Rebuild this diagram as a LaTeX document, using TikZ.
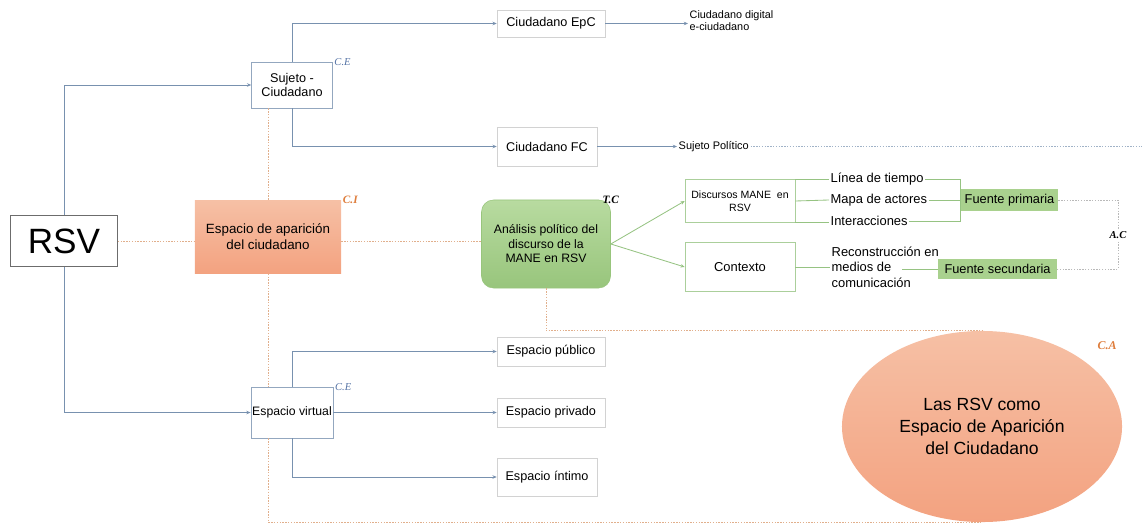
\documentclass[tikz,border=0pt]{standalone}
\usepackage{fontspec}
\setmainfont{Liberation Sans}
\newfontfamily\mathlabel{Liberation Serif}
\usetikzlibrary{shapes.geometric, arrows.meta, positioning, calc}
\definecolor{linkblue}{RGB}{120,145,175}
\definecolor{linkgreen}{RGB}{150,195,130}
\definecolor{dotorange}{RGB}{225,175,140}
\definecolor{orangetop}{RGB}{246,192,165}
\definecolor{orangebot}{RGB}{243,162,128}
\definecolor{greentop}{RGB}{184,219,160}
\definecolor{greenbot}{RGB}{152,197,124}
\definecolor{fillgreen}{RGB}{169,209,142}
\definecolor{labelorange}{RGB}{222,125,60}
\definecolor{labelblue}{RGB}{85,115,165}

\begin{document}
\begin{tikzpicture}[x=0.025cm, y=-0.025cm,
  cbox/.style={rectangle, draw=gray!35, fill=white, align=center, inner sep=1pt,
               font=\fontsize{9}{10.6}\selectfont},
  obox/.style={rectangle, top color=orangetop, bottom color=orangebot, align=center,
               inner sep=1pt, font=\fontsize{9.5}{11.3}\selectfont},
  gbox/.style={rectangle, rounded corners=0.3cm, draw=greenbot, top color=greentop,
               bottom color=greenbot, align=center, inner sep=1pt, font=\fontsize{8.7}{10.3}\selectfont},
  fbox/.style={rectangle, fill=fillgreen, inner sep=1pt, font=\fontsize{9.1}{11}\selectfont},
  txt/.style={inner sep=1pt, align=left, font=\fontsize{9.2}{11}\selectfont},
  clabel/.style={inner sep=1pt, font=\mathlabel\itshape\fontsize{7.5}{8}\selectfont},
  arrow/.style={-{Stealth[length=3pt, width=2.5pt]}, line width=0.6pt, color=linkblue},
  garrow/.style={-{Stealth[length=3pt, width=2.5pt]}, line width=0.6pt, color=linkgreen},
  gline/.style={line width=0.6pt, color=linkgreen},
  odot/.style={line width=0.6pt, color=dotorange, dash pattern=on 1pt off 1pt},
  bdot/.style={line width=0.6pt, color=linkblue!70, dash pattern=on 1pt off 1pt},
  gdot/.style={line width=0.6pt, color=gray!55, dash pattern=on 1pt off 1pt}
]
\useasboundingbox (0,0) rectangle (1142,524);

% left column
\node[cbox, draw=gray!85!black, minimum width=2.675cm, minimum height=1.275cm,
      font=\fontsize{25}{28}\selectfont] (rsv) at (64,241) {RSV};
\node[cbox, draw=linkblue!80, minimum width=2.025cm, minimum height=1.15cm] (suj) at (292,85) {Sujeto -\\Ciudadano};
\node[obox, minimum width=3.65cm, minimum height=1.825cm] (eap) at (268,237) {Espacio de aparición\\del ciudadano};
\node[cbox, draw=linkblue!80, minimum width=2.025cm, minimum height=1.275cm,
      font=\fontsize{8.7}{10.6}\selectfont] (evir) at (292,412.5) {Espacio virtual};

% citizen branch
\node[cbox, minimum width=2.7cm, minimum height=0.675cm] (epc) at (551,23.5) {Ciudadano EpC};
\node[cbox, minimum width=2.5cm, minimum height=0.975cm] (fc) at (547,146.5) {Ciudadano FC};
\node[txt, anchor=west, font=\fontsize{7.7}{8.5}\selectfont] (dig) at (688,21) {Ciudadano digital\\e-ciudadano};
\node[txt, anchor=west, font=\fontsize{7.8}{9}\selectfont] (pol) at (677,146.5) {Sujeto Político};
\coordinate (polend) at (1142,146.5);

% virtual space branch
\node[cbox, minimum width=2.7cm, minimum height=0.725cm] (epub) at (551,351.5) {Espacio público};
\node[cbox, minimum width=2.7cm, minimum height=0.725cm] (epriv) at (551,412.5) {Espacio privado};
\node[cbox, minimum width=2.5cm, minimum height=0.95cm] (eint) at (547,477) {Espacio íntimo};

% analysis branch
\node[gbox, minimum width=3.225cm, minimum height=2.2cm] (ana) at (546,244) {Análisis político del\\discurso de la\\MANE en RSV};
\node[cbox, draw=linkgreen!80, minimum width=2.75cm, minimum height=1.075cm,
      font=\fontsize{7.5}{9.2}\selectfont] (disc) at (740,201) {Discursos MANE~ en\\RSV};
\node[cbox, draw=linkgreen!80, minimum width=2.75cm, minimum height=1.225cm,
      font=\fontsize{9.2}{11}\selectfont] (ctx) at (740,267) {Contexto};
\node[txt, anchor=west] (linea) at (829,179.5) {Línea de tiempo};
\node[txt, anchor=west] (mapa) at (829,200) {Mapa de actores};
\node[txt, anchor=west] (inter) at (829,221) {Interacciones};
\node[txt, anchor=west] (recon) at (830,267) {Reconstrucción en\\medios de\\comunicación};
\coordinate (medend) at (902,269);
\node[fbox, minimum width=2.425cm, minimum height=0.55cm] (prim) at (1009.5,200) {Fuente primaria};
\node[fbox, minimum width=2.975cm, minimum height=0.5cm] (sec) at (997.5,269) {Fuente secundaria};
\coordinate (acx) at (1118,235);

\node[ellipse, top color=orangetop, bottom color=orangebot, minimum width=7cm, minimum height=4.775cm,
      align=center, font=\fontsize{12.5}{15.6}\selectfont] (ell) at (982,426.5)
      {Las RSV como\\Espacio de Aparición\\del Ciudadano};

% blue connectors
\draw[arrow] (rsv.north) |- (suj.west);
\draw[arrow] (rsv.south) |- (evir.west);
\draw[arrow] (suj.north) |- (epc.west);
\draw[arrow] (suj.south) |- (fc.west);
\draw[arrow] (epc.east) -- (epc.east -| dig.west);
\draw[arrow] (fc.east) -- (pol.west);
\draw[bdot] (pol.east) -- (polend);
\draw[arrow] (evir.north) |- (epub.west);
\draw[arrow] (evir.east) -- (epriv.west);
\draw[arrow] (evir.south) |- (eint.west);

% green connectors
\draw[garrow] (ana.east) -- (disc.west);
\draw[garrow] (ana.east) -- (ctx.west);
\draw[gline] (disc.north east) -- (disc.north east -| linea.west);
\draw[gline] (disc.east) -- (mapa.west);
\draw[gline] (disc.south east) -- (disc.south east -| inter.west);
\draw[gline] (linea.east) -| (prim.west |- inter.east) -- (inter.east);
\draw[gline] (mapa.east) -- (prim.west);
\draw[gline] (ctx.east) -- (recon.west);
\draw[gline] (medend) -- (sec.west);
\draw[gdot] (prim.east) -| (acx) |- (sec.east);

% orange dotted links
\draw[odot] (rsv.east) -- (rsv.east -| eap.west);
\draw[odot] (rsv.east -| eap.east) -- (rsv.east -| ana.west);
\draw[odot] (suj.south -| eap.north) -- (eap.north);
\draw[odot] (eap.south) -- (evir.north -| eap.south);
\draw[odot] (evir.south -| eap.south) |- (ell.south);
\draw[odot] (ana.south) |- (ell.north);

% labels
\node[clabel, anchor=west, text=labelblue] at (suj.north east) {C.E};
\node[clabel, anchor=west, text=labelblue] at (evir.north east) {C.E};
\node[clabel, anchor=west, text=labelorange, font=\mathlabel\itshape\bfseries\fontsize{8}{9}\selectfont] at (eap.north east) {C.I};
\node[clabel, font=\mathlabel\itshape\bfseries\fontsize{8}{9}\selectfont] at (ana.north east) {T.C};
\node[clabel, fill=white, font=\mathlabel\itshape\bfseries\fontsize{7.5}{9}\selectfont] at (acx) {A.C};
\node[clabel, text=labelorange, font=\mathlabel\itshape\bfseries\fontsize{8.5}{9}\selectfont] (calabel) at (1107,346) {C.A};

\end{tikzpicture}
\end{document}
